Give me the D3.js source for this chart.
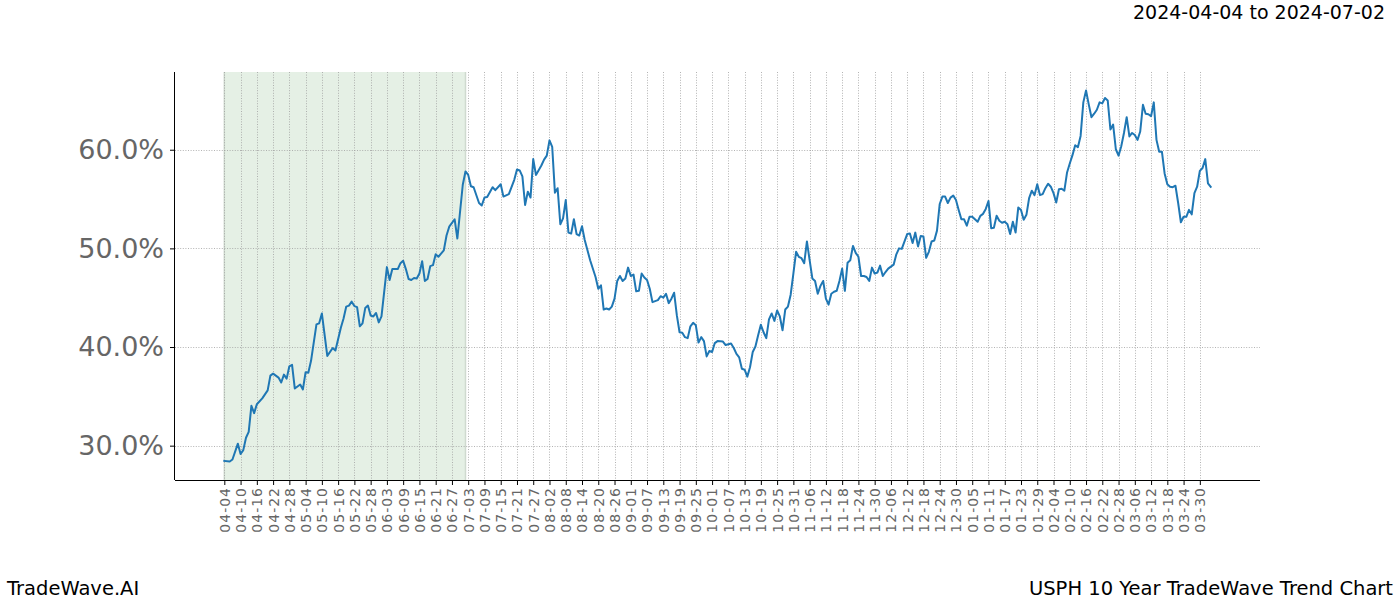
<!DOCTYPE html>
<html>
<head>
<meta charset="utf-8">
<script src="https://cdn.jsdelivr.net/npm/d3@7"></script>
<style>
  html, body { margin: 0; padding: 0; background: #ffffff; }
  svg { display: block; font-family: "DejaVu Sans", sans-serif; }
</style>
</head>
<body>
<svg id="chart" width="1400" height="600"></svg>
<script>
// ---------- data ----------
const dates = [
"2024-04-04","2024-04-06","2024-04-07","2024-04-09","2024-04-10","2024-04-11","2024-04-12","2024-04-13","2024-04-14","2024-04-15",
"2024-04-16","2024-04-18","2024-04-19","2024-04-20","2024-04-21","2024-04-22","2024-04-24","2024-04-25","2024-04-26","2024-04-27",
"2024-04-28","2024-04-29","2024-04-30","2024-05-02","2024-05-03","2024-05-04","2024-05-05","2024-05-06","2024-05-08","2024-05-09",
"2024-05-10","2024-05-12","2024-05-14","2024-05-15","2024-05-17","2024-05-18","2024-05-19","2024-05-20","2024-05-21","2024-05-22",
"2024-05-23","2024-05-24","2024-05-25","2024-05-26","2024-05-27","2024-05-28","2024-05-29","2024-05-30","2024-05-31","2024-06-01",
"2024-06-03","2024-06-04","2024-06-05","2024-06-07","2024-06-08","2024-06-09","2024-06-10","2024-06-11","2024-06-12","2024-06-13",
"2024-06-14","2024-06-15","2024-06-16","2024-06-17","2024-06-18","2024-06-19","2024-06-20","2024-06-21","2024-06-22","2024-06-24",
"2024-06-25","2024-06-26","2024-06-28","2024-06-29","2024-07-01","2024-07-02","2024-07-03","2024-07-04","2024-07-05","2024-07-07",
"2024-07-08","2024-07-09","2024-07-10","2024-07-12","2024-07-13","2024-07-15","2024-07-16","2024-07-18","2024-07-20","2024-07-21",
"2024-07-22","2024-07-23","2024-07-24","2024-07-25","2024-07-26","2024-07-27","2024-07-28","2024-07-30","2024-07-31","2024-08-01",
"2024-08-02","2024-08-03","2024-08-04","2024-08-05","2024-08-06","2024-08-07","2024-08-08","2024-08-09","2024-08-10","2024-08-11",
"2024-08-12","2024-08-13","2024-08-14","2024-08-15","2024-08-17","2024-08-19","2024-08-20","2024-08-21","2024-08-22","2024-08-23",
"2024-08-24","2024-08-25","2024-08-26","2024-08-27","2024-08-28","2024-08-29","2024-08-30","2024-08-31","2024-09-01","2024-09-02",
"2024-09-03","2024-09-04","2024-09-05","2024-09-06","2024-09-07","2024-09-08","2024-09-09","2024-09-10","2024-09-11","2024-09-12",
"2024-09-13","2024-09-14","2024-09-15","2024-09-16","2024-09-17","2024-09-18","2024-09-19","2024-09-20","2024-09-21","2024-09-22",
"2024-09-23","2024-09-24","2024-09-25","2024-09-26","2024-09-27","2024-09-28","2024-09-29","2024-09-30","2024-10-01","2024-10-02",
"2024-10-03","2024-10-05","2024-10-06","2024-10-08","2024-10-09","2024-10-10","2024-10-11","2024-10-12","2024-10-13","2024-10-14",
"2024-10-15","2024-10-16","2024-10-17","2024-10-18","2024-10-19","2024-10-20","2024-10-21","2024-10-22","2024-10-23","2024-10-24",
"2024-10-25","2024-10-26","2024-10-27","2024-10-28","2024-10-29","2024-10-30","2024-10-31","2024-11-01","2024-11-02","2024-11-03",
"2024-11-04","2024-11-05","2024-11-06","2024-11-07","2024-11-08","2024-11-09","2024-11-10","2024-11-11","2024-11-12","2024-11-13",
"2024-11-14","2024-11-15","2024-11-16","2024-11-17","2024-11-18","2024-11-19","2024-11-20","2024-11-21","2024-11-22","2024-11-23",
"2024-11-24","2024-11-25","2024-11-26","2024-11-27","2024-11-28","2024-11-29","2024-11-30","2024-12-01","2024-12-02","2024-12-03",
"2024-12-04","2024-12-05","2024-12-06","2024-12-07","2024-12-08","2024-12-09","2024-12-10","2024-12-12","2024-12-13","2024-12-14",
"2024-12-15","2024-12-16","2024-12-17","2024-12-18","2024-12-19","2024-12-20","2024-12-21","2024-12-22","2024-12-23","2024-12-24",
"2024-12-25","2024-12-26","2024-12-27","2024-12-28","2024-12-29","2024-12-30","2024-12-31","2025-01-01","2025-01-02","2025-01-03",
"2025-01-04","2025-01-05","2025-01-06","2025-01-07","2025-01-08","2025-01-09","2025-01-10","2025-01-11","2025-01-12","2025-01-13",
"2025-01-14","2025-01-15","2025-01-16","2025-01-17","2025-01-18","2025-01-19","2025-01-20","2025-01-21","2025-01-22","2025-01-23",
"2025-01-24","2025-01-25","2025-01-26","2025-01-27","2025-01-28","2025-01-29","2025-01-30","2025-01-31","2025-02-01","2025-02-02",
"2025-02-03","2025-02-04","2025-02-05","2025-02-06","2025-02-07","2025-02-08","2025-02-09","2025-02-10","2025-02-11","2025-02-12",
"2025-02-13","2025-02-14","2025-02-15","2025-02-16","2025-02-17","2025-02-18","2025-02-19","2025-02-20","2025-02-21","2025-02-22",
"2025-02-23","2025-02-24","2025-02-25","2025-02-26","2025-02-27","2025-02-28","2025-03-01","2025-03-02","2025-03-03","2025-03-04",
"2025-03-05","2025-03-06","2025-03-07","2025-03-08","2025-03-09","2025-03-10","2025-03-11","2025-03-12","2025-03-13","2025-03-14",
"2025-03-15","2025-03-16","2025-03-17","2025-03-18","2025-03-19","2025-03-20","2025-03-21","2025-03-22","2025-03-23","2025-03-24",
"2025-03-25","2025-03-26","2025-03-27","2025-03-28","2025-03-29","2025-03-30","2025-03-31","2025-04-01","2025-04-02","2025-04-03"
];
const values = [
28.45,28.4,28.6,30.2,29.15,29.55,30.8,31.4,34.05,33.3,
34.2,34.8,35.2,35.6,37.1,37.3,36.9,36.4,37.2,36.8,
38.05,38.2,35.8,36.2,35.7,37.45,37.4,38.6,42.3,42.4,
43.4,39.1,39.9,39.65,41.95,42.9,44.1,44.2,44.6,44.15,
44.05,42.1,42.4,43.95,44.2,43.2,43.1,43.45,42.5,43.1,
48.1,46.8,47.9,47.9,48.5,48.75,47.9,46.9,46.8,47.0,
46.95,47.45,48.7,46.7,46.9,48.2,48.3,49.4,49.15,49.8,
51.3,52.2,52.95,51.0,56.45,57.8,57.45,56.3,56.2,54.6,
54.35,55.15,55.2,56.2,55.9,56.5,55.25,55.5,56.95,58.0,
57.9,57.3,54.4,55.75,55.15,59.05,57.45,58.4,59.0,59.4,
60.95,60.3,55.65,56.1,52.45,53.05,54.9,51.6,51.5,52.95,
51.45,51.3,52.25,50.85,48.8,47.1,45.9,46.25,43.8,43.9,
43.8,44.1,44.9,46.7,47.2,46.7,46.95,48.05,47.2,47.35,
45.65,45.7,47.45,47.05,46.8,45.9,44.55,44.65,44.75,45.15,
45.0,45.4,44.45,44.9,45.5,43.2,41.5,41.45,41.0,40.9,
42.1,42.45,42.2,40.45,41.0,40.6,39.05,39.6,39.5,40.4,
40.6,40.55,40.2,40.35,39.9,39.3,38.95,37.8,37.7,37.0,
37.95,39.5,40.05,41.2,42.25,41.5,40.9,42.8,43.4,42.65,
43.7,43.1,41.7,43.8,44.1,45.3,47.45,49.65,49.15,49.0,
48.5,50.7,48.8,46.95,46.7,45.4,46.2,46.7,44.9,44.3,
45.4,45.6,45.7,46.7,47.95,45.7,48.55,48.8,50.25,49.55,
49.15,47.2,47.2,47.1,46.7,48.05,47.45,47.55,48.25,47.2,
47.6,47.95,48.15,48.35,49.4,50.0,49.95,51.45,51.5,50.55,
51.6,50.2,51.25,51.2,49.05,49.65,50.7,50.8,51.8,54.5,
55.25,55.25,54.6,55.15,55.35,54.9,53.9,52.95,52.95,52.3,
53.2,53.2,52.95,52.7,53.3,53.5,54.0,54.8,52.05,52.1,
53.3,52.8,52.6,52.7,52.45,51.45,52.7,51.6,54.15,53.9,
52.9,53.4,55.1,55.85,55.4,56.5,55.4,55.5,56.1,56.55,
56.25,55.6,54.65,56.0,56.05,55.85,57.7,58.6,59.45,60.45,
60.25,61.4,64.8,66.0,64.6,63.3,63.65,64.05,64.8,64.7,
65.25,65.0,62.05,62.55,60.05,59.4,60.35,61.7,63.3,61.35,
61.7,61.5,61.0,61.85,64.55,63.65,63.6,63.4,64.8,61.0,
59.8,59.8,57.6,56.5,56.25,56.2,56.35,54.6,52.65,53.2,
53.2,53.9,53.45,55.6,56.25,57.85,58.15,59.05,56.6,56.25
];
const tickDates = [
"2024-04-04","2024-04-10","2024-04-16","2024-04-22","2024-04-28","2024-05-04","2024-05-10","2024-05-16","2024-05-22","2024-05-28",
"2024-06-03","2024-06-09","2024-06-15","2024-06-21","2024-06-27","2024-07-03","2024-07-09","2024-07-15","2024-07-21","2024-07-27",
"2024-08-02","2024-08-08","2024-08-14","2024-08-20","2024-08-26","2024-09-01","2024-09-07","2024-09-13","2024-09-19","2024-09-25",
"2024-10-01","2024-10-07","2024-10-13","2024-10-19","2024-10-25","2024-10-31","2024-11-06","2024-11-12","2024-11-18","2024-11-24",
"2024-11-30","2024-12-06","2024-12-12","2024-12-18","2024-12-24","2024-12-30","2025-01-05","2025-01-11","2025-01-17","2025-01-23",
"2025-01-29","2025-02-04","2025-02-10","2025-02-16","2025-02-22","2025-02-28","2025-03-06","2025-03-12","2025-03-18","2025-03-24",
"2025-03-30"
];
const yTicks = [30, 40, 50, 60];
const highlightRange = ["2024-04-04", "2024-07-02"];
const titleText = "2024-04-04 to 2024-07-02";
const footerLeft = "TradeWave.AI";
const footerRight = "USPH 10 Year TradeWave Trend Chart";

// ---------- layout ----------
const svg = d3.select("#chart");
const plot = { left: 175, right: 1260, top: 72, bottom: 480 };
const parse = d3.utcParse("%Y-%m-%d");
const fmt = d3.utcFormat("%m-%d");
const data = dates.map((d, i) => ({ date: parse(d), value: values[i] }));

// matplotlib-like 5% margins
const xExt = d3.extent(data, d => d.date);
const xPad = (xExt[1] - xExt[0]) * 0.05;
const x = d3.scaleUtc()
  .domain([new Date(+xExt[0] - xPad), new Date(+xExt[1] + xPad)])
  .range([plot.left, plot.right]);
const yExt = d3.extent(values);
const yPad = (yExt[1] - yExt[0]) * 0.05;
const y = d3.scaleLinear()
  .domain([yExt[0] - yPad, yExt[1] + yPad])
  .range([plot.bottom, plot.top]);

// highlight span
svg.append("rect")
  .attr("x", x(parse(highlightRange[0])))
  .attr("y", plot.top)
  .attr("width", x(parse(highlightRange[1])) - x(parse(highlightRange[0])))
  .attr("height", plot.bottom - plot.top)
  .attr("fill", "#e5f0e5");
[highlightRange[0], highlightRange[1]].forEach(d => {
  svg.append("line")
    .attr("x1", x(parse(d))).attr("x2", x(parse(d)))
    .attr("y1", plot.top).attr("y2", plot.bottom)
    .attr("stroke", "#cfdacf").attr("stroke-width", 1.5);
});

// grids
const gridG = svg.append("g");
tickDates.forEach(t => {
  const xx = Math.round(x(parse(t))) + 0.5;
  gridG.append("line")
    .attr("x1", xx).attr("x2", xx)
    .attr("y1", plot.top).attr("y2", plot.bottom)
    .attr("stroke", "#a0a0a0").attr("stroke-width", 0.8)
    .attr("stroke-dasharray", "1,1.6");
});
yTicks.forEach(t => {
  const yy = Math.round(y(t)) + 0.5;
  gridG.append("line")
    .attr("x1", plot.left).attr("x2", plot.right)
    .attr("y1", yy).attr("y2", yy)
    .attr("stroke", "#a0a0a0").attr("stroke-width", 0.8)
    .attr("stroke-dasharray", "1,1.6");
});

// line
const line = d3.line().x(d => x(d.date)).y(d => y(d.value));
svg.append("path")
  .datum(data)
  .attr("fill", "none")
  .attr("stroke", "#1f77b4")
  .attr("stroke-width", 2)
  .attr("stroke-linejoin", "round")
  .attr("stroke-linecap", "square")
  .attr("d", line);

// x axis
const xAxis = d3.axisBottom(x)
  .tickValues(tickDates.map(parse))
  .tickFormat(fmt)
  .tickSize(5)
  .tickPadding(3);
const gx = svg.append("g")
  .attr("transform", `translate(0,${plot.bottom})`)
  .call(xAxis);
gx.select(".domain").attr("stroke", "#000").attr("stroke-width", 1)
  .attr("d", `M${plot.left},0.5H${plot.right}`);
gx.selectAll(".tick line").attr("stroke", "#000").attr("stroke-width", 1);
gx.selectAll(".tick text")
  .attr("fill", "#666666")
  .attr("font-size", "14px")
  .attr("letter-spacing", "1px")
  .attr("font-family", "DejaVu Sans, sans-serif")
  .attr("transform", "rotate(-90)")
  .attr("text-anchor", "end")
  .attr("x", -7)
  .attr("y", 0)
  .attr("dy", "0.35em");

// y axis
const yAxis = d3.axisLeft(y)
  .tickValues(yTicks)
  .tickFormat(d => d.toFixed(1) + "%")
  .tickSize(5)
  .tickPadding(6);
const gy = svg.append("g")
  .attr("transform", `translate(${plot.left},0)`)
  .call(yAxis);
gy.select(".domain").attr("stroke", "#000").attr("stroke-width", 1)
  .attr("d", `M-0.5,${plot.top}V${plot.bottom}`);
gy.selectAll(".tick line").attr("stroke", "#000").attr("stroke-width", 1);
gy.selectAll(".tick text")
  .attr("fill", "#666666")
  .attr("font-size", "27px")
  .attr("font-family", "DejaVu Sans, sans-serif");

// texts
svg.append("text")
  .attr("x", 1385).attr("y", 19)
  .attr("text-anchor", "end")
  .attr("font-size", "19px")
  .attr("fill", "#000")
  .text(titleText);
svg.append("text")
  .attr("x", 7).attr("y", 595)
  .attr("font-size", "19.5px")
  .attr("fill", "#000")
  .text(footerLeft);
svg.append("text")
  .attr("x", 1393).attr("y", 595)
  .attr("text-anchor", "end")
  .attr("font-size", "19.5px")
  .attr("fill", "#000")
  .text(footerRight);
</script>
</body>
</html>
